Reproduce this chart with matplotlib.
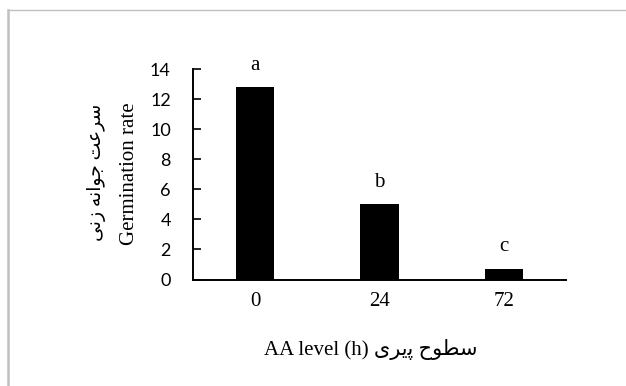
import matplotlib.pyplot as plt
from matplotlib.lines import Line2D

# data
levels = ["0", "24", "72"]
rates = [12.8, 5.0, 0.7]
letters = ["a", "b", "c"]
yticks = [0, 2, 4, 6, 8, 10, 12, 14]

# Persian text in presentation forms, visual (left to right) order
fa_ylabel = "\uFBFD\uFEE7\uFEAF \uFEEA\uFEE7\uFE8D\uFEEE\uFE9F \uFE96\uFECB\uFEAE\uFEB3"
fa_xlabel = "\uFBFC\uFEAE\uFBFE\uFB58 \uFEA1\uFEEE\uFEC4\uFEB3"

serif = ["Liberation Serif", "DejaVu Sans"]

fig = plt.figure(figsize=(6.26, 3.86), dpi=100)
ax = fig.add_axes([193 / 626, 1 - 279.5 / 386, 373 / 626, 210.5 / 386])

x = range(len(levels))
ax.bar(x, rates, width=0.31, color="black")

for xi, h, lab in zip(x, rates, letters):
    ax.annotate(lab, (xi, h), xytext=(0, 17.5), textcoords="offset pixels",
                ha="center", va="baseline", fontsize=15, family=serif)

ax.set_xlim(-0.5, 2.5)
ax.set_ylim(0, 14)
ax.set_yticks(yticks)
ax.set_yticklabels([str(t) for t in yticks], family=["Lato", "DejaVu Sans"], fontsize=13)
ax.set_xticks(list(x))
ax.set_xticklabels(levels, family=serif, fontsize=15)
ax.tick_params(axis="y", direction="in", length=6, width=1.2, pad=16)
ax.tick_params(axis="x", length=0, pad=9)

for side in ["top", "right"]:
    ax.spines[side].set_visible(False)
for side in ["left", "bottom"]:
    ax.spines[side].set_linewidth(1.4)
    ax.spines[side].set_color("black")

# y label, two lines
fig.text(97 / 626, 1 - 172 / 386, fa_ylabel, rotation=90, ha="center", va="center",
         fontsize=13.5, family=serif)
fig.text(129 / 626, 1 - 174 / 386, "Germination rate", rotation=90, ha="center", va="center",
         fontsize=15, family=serif)

# x label
fig.text(371 / 626, 1 - 349 / 386, "AA level (h) " + fa_xlabel, ha="center", va="center",
         fontsize=15, family=serif)

# grey frame lines (left and top)
fig.add_artist(Line2D([8 / 626, 8 / 626], [0, 1 - 10 / 386], color="#c0c0c0", lw=1.8,
                      transform=fig.transFigure))
fig.add_artist(Line2D([8 / 626, 1], [1 - 10 / 386, 1 - 10 / 386], color="#c0c0c0", lw=1.0,
                      transform=fig.transFigure))

fig.savefig("out.png", dpi=100)
